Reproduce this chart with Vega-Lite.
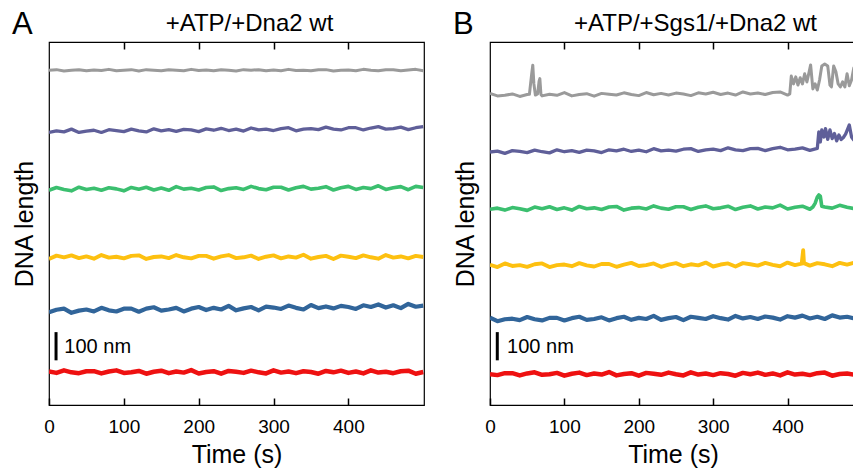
{
  "$schema": "https://vega.github.io/schema/vega-lite/v6.json",
  "padding": {"left": 11, "top": 8, "right": 0, "bottom": 0},
  "spacing": 27,
  "config": {
    "font": "Liberation Sans",
    "view": {"stroke": "black", "strokeWidth": 1.2},
    "axis": {"grid": false, "labelColor": "black", "titleColor": "black", "tickColor": "black", "titleFontWeight": "normal"},
    "title": {"fontWeight": "normal", "color": "black"}
  },
  "datasets": {
    "A": [
      {"t":0,"gray":1199,"purple":976,"green":769,"yellow":523,"blue":332,"red":120},
      {"t":10,"gray":1201,"purple":982,"green":779,"yellow":535,"blue":341,"red":115},
      {"t":20,"gray":1196,"purple":978,"green":772,"yellow":529,"blue":345,"red":124},
      {"t":30,"gray":1199,"purple":988,"green":767,"yellow":536,"blue":330,"red":117},
      {"t":40,"gray":1201,"purple":976,"green":780,"yellow":526,"blue":338,"red":114},
      {"t":50,"gray":1197,"purple":981,"green":772,"yellow":532,"blue":342,"red":121},
      {"t":60,"gray":1200,"purple":984,"green":776,"yellow":524,"blue":335,"red":121},
      {"t":70,"gray":1198,"purple":976,"green":769,"yellow":537,"blue":348,"red":113},
      {"t":80,"gray":1202,"purple":986,"green":778,"yellow":528,"blue":339,"red":120},
      {"t":90,"gray":1197,"purple":983,"green":774,"yellow":531,"blue":335,"red":124},
      {"t":100,"gray":1199,"purple":979,"green":767,"yellow":525,"blue":345,"red":115},
      {"t":110,"gray":1201,"purple":988,"green":779,"yellow":534,"blue":345,"red":117},
      {"t":120,"gray":1196,"purple":982,"green":773,"yellow":536,"blue":334,"red":122},
      {"t":130,"gray":1201,"purple":978,"green":780,"yellow":523,"blue":345,"red":112},
      {"t":140,"gray":1199,"purple":989,"green":770,"yellow":530,"blue":350,"red":119},
      {"t":150,"gray":1197,"purple":982,"green":777,"yellow":532,"blue":338,"red":123},
      {"t":160,"gray":1201,"purple":986,"green":769,"yellow":526,"blue":342,"red":114},
      {"t":170,"gray":1199,"purple":980,"green":782,"yellow":537,"blue":348,"red":120},
      {"t":180,"gray":1197,"purple":987,"green":773,"yellow":529,"blue":335,"red":116},
      {"t":190,"gray":1202,"purple":985,"green":776,"yellow":525,"blue":345,"red":125},
      {"t":200,"gray":1198,"purple":979,"green":770,"yellow":534,"blue":351,"red":113},
      {"t":210,"gray":1200,"purple":989,"green":779,"yellow":534,"blue":340,"red":118},
      {"t":220,"gray":1197,"purple":984,"green":781,"yellow":524,"blue":348,"red":121},
      {"t":230,"gray":1201,"purple":991,"green":768,"yellow":532,"blue":342,"red":112},
      {"t":240,"gray":1199,"purple":983,"green":775,"yellow":537,"blue":355,"red":122},
      {"t":250,"gray":1196,"purple":988,"green":778,"yellow":526,"blue":339,"red":119},
      {"t":260,"gray":1201,"purple":981,"green":772,"yellow":529,"blue":346,"red":115},
      {"t":270,"gray":1199,"purple":992,"green":783,"yellow":535,"blue":351,"red":123},
      {"t":280,"gray":1201,"purple":985,"green":775,"yellow":523,"blue":339,"red":117},
      {"t":290,"gray":1197,"purple":988,"green":771,"yellow":531,"blue":352,"red":113},
      {"t":300,"gray":1200,"purple":983,"green":780,"yellow":536,"blue":349,"red":124},
      {"t":310,"gray":1197,"purple":990,"green":780,"yellow":525,"blue":344,"red":116},
      {"t":320,"gray":1202,"purple":993,"green":770,"yellow":532,"blue":356,"red":120},
      {"t":330,"gray":1198,"purple":982,"green":778,"yellow":528,"blue":348,"red":114},
      {"t":340,"gray":1199,"purple":988,"green":783,"yellow":538,"blue":342,"red":121},
      {"t":350,"gray":1197,"purple":990,"green":773,"yellow":524,"blue":358,"red":118},
      {"t":360,"gray":1201,"purple":986,"green":776,"yellow":530,"blue":347,"red":112},
      {"t":370,"gray":1201,"purple":995,"green":782,"yellow":534,"blue":353,"red":122},
      {"t":380,"gray":1196,"purple":988,"green":770,"yellow":523,"blue":346,"red":117},
      {"t":390,"gray":1199,"purple":985,"green":778,"yellow":535,"blue":355,"red":123},
      {"t":400,"gray":1200,"purple":993,"green":783,"yellow":531,"blue":351,"red":115},
      {"t":410,"gray":1197,"purple":993,"green":772,"yellow":526,"blue":344,"red":120},
      {"t":420,"gray":1202,"purple":985,"green":779,"yellow":536,"blue":357,"red":113},
      {"t":430,"gray":1199,"purple":992,"green":775,"yellow":529,"blue":351,"red":124},
      {"t":440,"gray":1197,"purple":997,"green":785,"yellow":524,"blue":360,"red":116},
      {"t":450,"gray":1201,"purple":988,"green":772,"yellow":537,"blue":349,"red":119},
      {"t":460,"gray":1201,"purple":990,"green":778,"yellow":528,"blue":357,"red":114},
      {"t":470,"gray":1197,"purple":995,"green":782,"yellow":532,"blue":347,"red":121},
      {"t":480,"gray":1200,"purple":986,"green":771,"yellow":525,"blue":362,"red":123},
      {"t":490,"gray":1202,"purple":993,"green":783,"yellow":534,"blue":352,"red":112},
      {"t":500,"gray":1197,"purple":997,"green":779,"yellow":530,"blue":356,"red":118}
    ],
    "B": [
      {"t":0,"gray":1116,"purple":906,"green":701,"yellow":502,"blue":313,"red":110},
      {"t":10,"gray":1107,"purple":909,"green":705,"yellow":494,"blue":300,"red":107},
      {"t":20,"gray":1109,"purple":901,"green":698,"yellow":507,"blue":307,"red":114},
      {"t":30,"gray":1114,"purple":911,"green":707,"yellow":498,"blue":309,"red":114},
      {"t":40,"gray":1105,"purple":908,"green":703,"yellow":501,"blue":304,"red":106},
      {"t":50,"gray":1112,"purple":904,"green":697,"yellow":495,"blue":315,"red":113},
      {"t":53,"gray":1113},
      {"t":56,"gray":1185},
      {"t":57.5,"gray":1217},
      {"t":59,"gray":1150},
      {"t":60,"purple":913,"green":709,"yellow":504,"blue":307,"red":117},
      {"t":61,"gray":1110},
      {"t":64,"gray":1114},
      {"t":66,"gray":1160},
      {"t":67,"gray":1169},
      {"t":68.5,"gray":1112},
      {"t":70,"gray":1107,"purple":907,"green":703,"yellow":507,"blue":303,"red":108},
      {"t":80,"gray":1113,"purple":903,"green":710,"yellow":494,"blue":312,"red":110},
      {"t":90,"gray":1109,"purple":914,"green":700,"yellow":501,"blue":312,"red":115},
      {"t":100,"gray":1119,"purple":907,"green":706,"yellow":503,"blue":303,"red":105},
      {"t":110,"gray":1107,"purple":911,"green":698,"yellow":497,"blue":311,"red":112},
      {"t":120,"gray":1112,"purple":905,"green":711,"yellow":508,"blue":316,"red":116},
      {"t":130,"gray":1115,"purple":913,"green":703,"yellow":500,"blue":305,"red":107},
      {"t":140,"gray":1106,"purple":910,"green":706,"yellow":496,"blue":308,"red":113},
      {"t":150,"gray":1116,"purple":904,"green":700,"yellow":505,"blue":314,"red":109},
      {"t":160,"gray":1113,"purple":914,"green":709,"yellow":505,"blue":303,"red":118},
      {"t":170,"gray":1110,"purple":910,"green":711,"yellow":495,"blue":311,"red":106},
      {"t":180,"gray":1118,"purple":916,"green":698,"yellow":503,"blue":316,"red":111},
      {"t":190,"gray":1112,"purple":908,"green":705,"yellow":509,"blue":305,"red":114},
      {"t":200,"gray":1108,"purple":913,"green":707,"yellow":498,"blue":312,"red":105},
      {"t":210,"gray":1119,"purple":907,"green":702,"yellow":501,"blue":308,"red":115},
      {"t":220,"gray":1111,"purple":918,"green":713,"yellow":507,"blue":319,"red":112},
      {"t":230,"gray":1116,"purple":910,"green":705,"yellow":495,"blue":305,"red":108},
      {"t":240,"gray":1110,"purple":913,"green":701,"yellow":503,"blue":311,"red":116},
      {"t":250,"gray":1117,"purple":909,"green":710,"yellow":508,"blue":315,"red":110},
      {"t":260,"gray":1114,"purple":916,"green":710,"yellow":497,"blue":304,"red":106},
      {"t":270,"gray":1108,"purple":918,"green":700,"yellow":504,"blue":316,"red":117},
      {"t":280,"gray":1118,"purple":908,"green":708,"yellow":500,"blue":312,"red":109},
      {"t":290,"gray":1114,"purple":914,"green":713,"yellow":510,"blue":308,"red":113},
      {"t":300,"gray":1120,"purple":916,"green":703,"yellow":496,"blue":318,"red":107},
      {"t":310,"gray":1112,"purple":911,"green":706,"yellow":503,"blue":311,"red":114},
      {"t":320,"gray":1117,"purple":921,"green":712,"yellow":507,"blue":306,"red":111},
      {"t":330,"gray":1110,"purple":914,"green":700,"yellow":496,"blue":319,"red":105},
      {"t":340,"gray":1121,"purple":911,"green":708,"yellow":508,"blue":310,"red":115},
      {"t":350,"gray":1114,"purple":918,"green":713,"yellow":504,"blue":315,"red":110},
      {"t":360,"gray":1117,"purple":919,"green":702,"yellow":499,"blue":308,"red":116},
      {"t":370,"gray":1112,"purple":911,"green":709,"yellow":509,"blue":317,"red":108},
      {"t":380,"gray":1119,"purple":918,"green":706,"yellow":502,"blue":313,"red":113},
      {"t":390,"gray":1121,"purple":923,"green":716,"yellow":497,"blue":306,"red":106},
      {"t":400,"gray":1110,"purple":914,"green":702,"yellow":510,"blue":318,"red":117},
      {"t":403,"gray":1114},
      {"t":405,"gray":1178},
      {"t":408,"gray":1150},
      {"t":410,"purple":916,"green":708,"yellow":501,"blue":313,"red":109},
      {"t":411,"gray":1175},
      {"t":414,"gray":1146},
      {"t":417,"gray":1172},
      {"t":419,"yellow":506},
      {"t":420,"gray":1150,"purple":921,"green":712,"blue":320,"red":112},
      {"t":421,"yellow":554},
      {"t":422,"yellow":508},
      {"t":423,"gray":1186},
      {"t":426,"gray":1157},
      {"t":429,"gray":1193},
      {"t":430,"purple":912,"green":701,"yellow":499,"blue":310,"red":107},
      {"t":431,"gray":1218},
      {"t":434,"gray":1132,"green":709},
      {"t":437,"gray":1150,"green":722},
      {"t":440,"gray":1128,"purple":919,"green":745,"yellow":508,"blue":316,"red":114},
      {"t":442,"purple":978,"green":752},
      {"t":443,"gray":1164},
      {"t":444,"purple":942,"green":748},
      {"t":446,"gray":1214,"purple":985,"green":712},
      {"t":449,"purple":960},
      {"t":450,"gray":1221,"green":709,"yellow":504,"blue":308,"red":116},
      {"t":451,"purple":990},
      {"t":454,"gray":1214,"purple":951},
      {"t":457,"gray":1146,"purple":985},
      {"t":459,"gray":1139},
      {"t":460,"purple":954,"green":705,"yellow":497,"blue":321,"red":105},
      {"t":462,"gray":1214},
      {"t":463,"purple":972},
      {"t":465,"gray":1193},
      {"t":466,"purple":946},
      {"t":468,"gray":1150},
      {"t":469,"purple":967},
      {"t":470,"green":715,"yellow":509,"blue":313,"red":111},
      {"t":471,"gray":1139},
      {"t":472,"purple":951},
      {"t":474,"gray":1157},
      {"t":475,"purple":958},
      {"t":477,"gray":1139},
      {"t":478,"purple":970},
      {"t":480,"gray":1186,"green":708,"yellow":503,"blue":316,"red":113},
      {"t":481,"purple":990},
      {"t":483,"gray":1143,"purple":1003},
      {"t":486,"gray":1164,"purple":960},
      {"t":489,"gray":1207,"purple":949},
      {"t":490,"green":703,"yellow":510,"blue":310,"red":108},
      {"t":492,"gray":1193,"purple":954,"green":706,"yellow":505,"blue":314,"red":112}
    ]
  },
  "hconcat": [
    {
      "width": 375,
      "height": 363,
      "title": {"text": "A", "anchor": "start", "frame": "bounds", "fontSize": 31, "offset": -30},
      "resolve": {"axis": {"x": "independent"}},
      "layer": [
        {
          "data": {"name": "A"},
          "transform": [
            {"fold": ["gray", "purple", "green", "yellow", "blue", "red"], "as": ["trace", "nm"]},
            {"filter": "isValid(datum.nm)"}
          ],
          "mark": {"type": "line", "clip": true, "strokeJoin": "round"},
          "encoding": {
            "x": {"field": "t", "type": "quantitative",
              "scale": {"domain": [0, 501], "nice": false, "zero": false},
              "axis": {"orient": "bottom", "values": [0, 100, 200, 300, 400], "tickSize": -7, "tickWidth": 1.5, "domain": false,
                "labelFontSize": 19, "labelPadding": 19, "labelFlush": false, "title": "Time (s)", "titleFontSize": 25, "titlePadding": 6}},
            "y": {"field": "nm", "type": "quantitative",
              "scale": {"domain": [0, 1300], "nice": false, "zero": false},
              "axis": {"title": "DNA length", "labels": false, "ticks": false, "domain": false, "titleFontSize": 25, "titlePadding": 12}},
            "color": {"field": "trace", "type": "nominal",
              "scale": {"domain": ["gray", "purple", "green", "yellow", "blue", "red"],
                "range": ["#9a9a9a", "#5f5f99", "#3bbf6f", "#fdc010", "#31659a", "#ee1111"]},
              "legend": null},
            "strokeWidth": {"field": "trace", "type": "nominal",
              "scale": {"domain": ["gray", "purple", "green", "yellow", "blue", "red"], "range": [3, 4.5, 5, 5, 5, 4.5]},
              "legend": null}
          }
        },
        {
          "data": {"values": [{}]},
          "mark": {"type": "rule", "opacity": 0},
          "encoding": {
            "x": {"datum": 0, "type": "quantitative",
              "axis": {"orient": "top", "values": [100, 200, 300, 400], "tickSize": -7, "tickWidth": 1.5, "domain": false, "labels": false,
                "title": "+ATP/+Dna2 wt", "titleFontSize": 24, "titlePadding": 6, "titleX": 200}}
          }
        },
        {
          "data": {"values": [{}]},
          "mark": {"type": "rule", "strokeWidth": 3, "color": "black"},
          "encoding": {"x": {"datum": 9.4, "type": "quantitative", "axis": null}, "y": {"datum": 160, "type": "quantitative"}, "y2": {"datum": 261}}
        },
        {
          "data": {"values": [{}]},
          "mark": {"type": "text", "text": "100 nm", "align": "left", "baseline": "middle", "fontSize": 20, "color": "black"},
          "encoding": {"x": {"datum": 20.5, "type": "quantitative", "axis": null}, "y": {"datum": 208, "type": "quantitative"}}
        }
      ]
    },
    {
      "width": 366,
      "height": 363,
      "title": {"text": "B", "anchor": "start", "frame": "bounds", "fontSize": 31, "offset": -30},
      "resolve": {"axis": {"x": "independent"}},
      "layer": [
        {
          "data": {"name": "B"},
          "transform": [
            {"fold": ["gray", "purple", "green", "yellow", "blue", "red"], "as": ["trace", "nm"]},
            {"filter": "isValid(datum.nm)"}
          ],
          "mark": {"type": "line", "clip": true, "strokeJoin": "round"},
          "encoding": {
            "x": {"field": "t", "type": "quantitative",
              "scale": {"domain": [0, 492], "nice": false, "zero": false},
              "axis": {"orient": "bottom", "values": [0, 100, 200, 300, 400], "tickSize": -7, "tickWidth": 1.5, "domain": false,
                "labelFontSize": 19, "labelPadding": 19, "labelFlush": false, "title": "Time (s)", "titleFontSize": 25, "titlePadding": 6}},
            "y": {"field": "nm", "type": "quantitative",
              "scale": {"domain": [0, 1300], "nice": false, "zero": false},
              "axis": {"title": "DNA length", "labels": false, "ticks": false, "domain": false, "titleFontSize": 25, "titlePadding": 12}},
            "color": {"field": "trace", "type": "nominal",
              "scale": {"domain": ["gray", "purple", "green", "yellow", "blue", "red"],
                "range": ["#9a9a9a", "#5f5f99", "#3bbf6f", "#fdc010", "#31659a", "#ee1111"]},
              "legend": null},
            "strokeWidth": {"field": "trace", "type": "nominal",
              "scale": {"domain": ["gray", "purple", "green", "yellow", "blue", "red"], "range": [4.5, 4.5, 5, 5, 5, 4.5]},
              "legend": null}
          }
        },
        {
          "data": {"values": [{}]},
          "mark": {"type": "rule", "opacity": 0},
          "encoding": {
            "x": {"datum": 0, "type": "quantitative",
              "axis": {"orient": "top", "values": [100, 200, 300, 400], "tickSize": -7, "tickWidth": 1.5, "domain": false, "labels": false,
                "title": "+ATP/+Sgs1/+Dna2 wt", "titleFontSize": 24, "titlePadding": 6, "titleX": 205}}
          }
        },
        {
          "data": {"values": [{}]},
          "mark": {"type": "rule", "strokeWidth": 3, "color": "black"},
          "encoding": {"x": {"datum": 9.8, "type": "quantitative", "axis": null}, "y": {"datum": 160, "type": "quantitative"}, "y2": {"datum": 261}}
        },
        {
          "data": {"values": [{}]},
          "mark": {"type": "text", "text": "100 nm", "align": "left", "baseline": "middle", "fontSize": 20, "color": "black"},
          "encoding": {"x": {"datum": 23, "type": "quantitative", "axis": null}, "y": {"datum": 208, "type": "quantitative"}}
        }
      ]
    }
  ]
}
